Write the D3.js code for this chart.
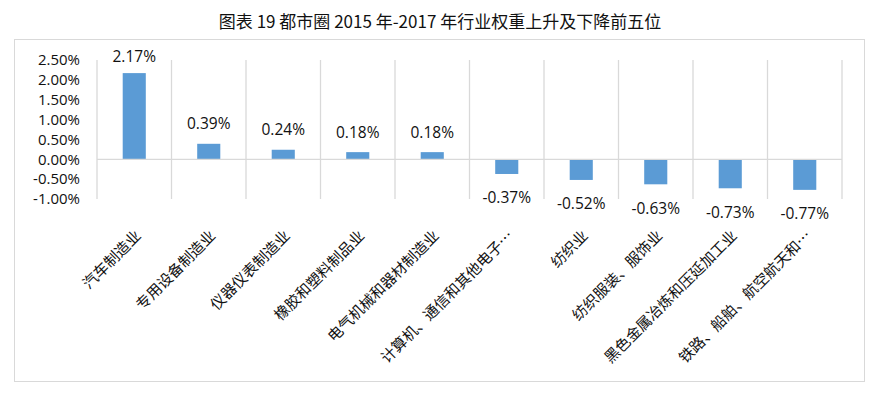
<!DOCTYPE html>
<html>
<head>
<meta charset="utf-8">
<script src="https://cdn.jsdelivr.net/npm/d3@7"></script>
<style>
  body { margin: 0; background: #fff; }
  svg { display: block; font-family: "Open Sans", "Noto Sans CJK SC", sans-serif; }
</style>
</head>
<body>
<div id="chart"></div>
<script>
// data
const title = '图表 19 都市圈 2015 年-2017 年行业权重上升及下降前五位';
const categories = [
  '汽车制造业', '专用设备制造业', '仪器仪表制造业', '橡胶和塑料制品业', '电气机械和器材制造业',
  '计算机、通信和其他电子…', '纺织业', '纺织服装、服饰业', '黑色金属冶炼和压延加工业', '铁路、船舶、航空航天和…'
];
const values = [2.17, 0.39, 0.24, 0.18, 0.18, -0.37, -0.52, -0.63, -0.73, -0.77];
const yTicks = [2.5, 2.0, 1.5, 1.0, 0.5, 0, -0.5, -1.0];

const W = 879, H = 398;
const pct = v => v.toFixed(2) + '%';   // plain hyphen like the original

const svg = d3.select('#chart').append('svg').attr('width', W).attr('height', H);

// outer frame
svg.append('rect')
  .attr('x', 14.5).attr('y', 39.5).attr('width', 850).attr('height', 342)
  .attr('fill', 'none').attr('stroke', '#d9d9d9');

svg.append('text')
  .attr('x', 440).attr('y', 28)
  .attr('text-anchor', 'middle')
  .attr('font-family', '"Noto Sans CJK SC", sans-serif')
  .attr('font-size', 17).attr('font-weight', 400).attr('fill', '#111')
  .text(title);

const x = d3.scaleBand().domain(categories).range([97, 842]).paddingInner(0.69).paddingOuter(0.345);
const y = d3.scaleLinear().domain([-1, 2.5]).range([199, 60]);
const step = x.step();

// vertical category separators
const seps = d3.range(categories.length + 1).map(i => 97 + i * step);
svg.append('g').selectAll('line')
  .data(seps).join('line')
  .attr('x1', d => d).attr('x2', d => d)
  .attr('y1', y(2.5)).attr('y2', y(-1))
  .attr('stroke', '#d9d9d9').attr('stroke-width', 1.3);

// y labels
svg.append('g').selectAll('text')
  .data(yTicks).join('text')
  .attr('x', 80).attr('y', d => y(d))
  .attr('dy', '0.35em')
  .attr('text-anchor', 'end')
  .attr('font-size', 15).attr('fill', '#111')
  .text(pct);

// bars
svg.append('g').selectAll('rect')
  .data(values).join('rect')
  .attr('x', (d, i) => x(categories[i]))
  .attr('width', x.bandwidth())
  .attr('y', d => y(Math.max(0, d)))
  .attr('height', d => Math.abs(y(d) - y(0)))
  .attr('fill', '#5b9bd5');

// zero line
svg.append('line')
  .attr('x1', 97).attr('x2', 842)
  .attr('y1', y(0)).attr('y2', y(0))
  .attr('stroke', '#d9d9d9').attr('stroke-width', 1.3);

// value labels
svg.append('g').selectAll('text')
  .data(values).join('text')
  .attr('x', (d, i) => x(categories[i]) + x.bandwidth() / 2)
  .attr('y', d => d >= 0 ? Math.max(y(d) - 20, 57) : y(d) + 24)
  .attr('dy', '0.35em')
  .attr('text-anchor', 'middle')
  .attr('font-size', 15.5).attr('fill', '#111')
  .text(pct);

// category labels
svg.append('g').selectAll('text')
  .data(categories).join('text')
  .attr('transform', d => `translate(${x(d) + x.bandwidth() / 2 + 4},${233}) rotate(-45)`)
  .attr('text-anchor', 'end')
  .attr('dy', '0.35em')
  .attr('font-family', '"Noto Sans CJK SC", sans-serif')
  .attr('font-size', 15).attr('fill', '#111')
  .text(d => d);
</script>
</body>
</html>
